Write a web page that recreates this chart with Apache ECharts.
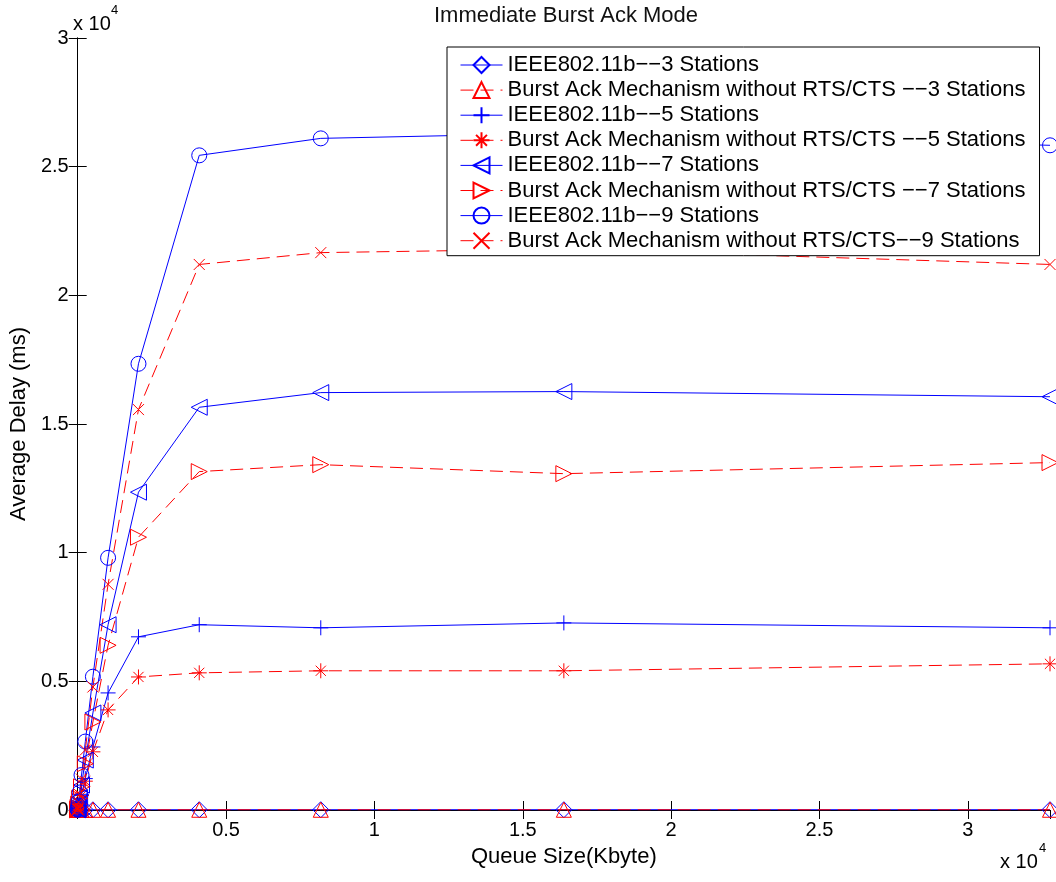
<!DOCTYPE html>
<html>
<head>
<meta charset="utf-8">
<script src="https://cdn.jsdelivr.net/npm/echarts@6/dist/echarts.min.js"></script>
<style>
  html, body { margin: 0; padding: 0; background: #fff; }
  #chart { width: 1056px; height: 882px; }
</style>
</head>
<body>
<div id="chart"></div>
<script>
// Queue sizes (Kbyte) used for each run
const queueSizes = [1, 2, 4, 8, 16, 32, 64, 128, 256, 512, 1024, 2048, 4096, 8192, 16384, 32768];

// Average delay (ms) per configuration
const ieee3  = [2, 2, 3, 3, 4, 4, 5, 6, 7, 8, 9, 10, 11, 11, 11, 11];
const burst3 = [2, 2, 2, 3, 3, 4, 4, 5, 6, 7, 8, 8, 9, 9, 9, 9];
const ieee5  = [5, 10, 20, 40, 75, 150, 300, 610, 1220, 2450, 4550, 6730, 7200, 7080, 7270, 7080];
const burst5 = [4, 8, 17, 33, 68, 140, 280, 560, 1120, 2260, 3890, 5170, 5330, 5410, 5410, 5680];
const ieee7  = [8, 15, 30, 60, 120, 240, 485, 970, 1940, 3770, 7200, 12350, 15650, 16220, 16260, 16060];
const burst7 = [7, 14, 28, 56, 112, 225, 450, 900, 1800, 3420, 6400, 10600, 13150, 13420, 13070, 13500];
const ieee9  = [11, 21, 42, 85, 170, 340, 680, 1360, 2660, 5180, 9800, 17340, 25440, 26100, 26300, 25830];
const burst9 = [9, 19, 37, 75, 150, 300, 600, 1200, 2330, 4780, 8770, 15560, 21200, 21660, 21800, 21200];

const seriesNames = [
  'IEEE802.11b\u2212\u22123 Stations',
  'Burst Ack Mechanism without RTS/CTS \u2212\u22123 Stations',
  'IEEE802.11b\u2212\u22125 Stations',
  'Burst Ack Mechanism without RTS/CTS \u2212\u22125 Stations',
  'IEEE802.11b\u2212\u22127 Stations',
  'Burst Ack Mechanism without RTS/CTS \u2212\u22127 Stations',
  'IEEE802.11b\u2212\u22129 Stations',
  'Burst Ack Mechanism without RTS/CTS\u2212\u22129 Stations'
];

const xTicks = [0, 5000, 10000, 15000, 20000, 25000, 30000];
const yTicks = [0, 5000, 10000, 15000, 20000, 25000, 30000];

const BLUE = '#0000ff';
const RED = '#ff0000';
const FONT = 'Liberation Sans, Arial, Helvetica, sans-serif';

// Outline-only marker shapes (stroked, never filled)
const MARK = {
  diamond: 'path://M5,0L10,5L5,10L0,5Z',
  triUp: 'path://M5,0L10,10L0,10Z',
  plus: 'path://M5,0L5,10M0,5L10,5',
  star: 'path://M5,0L5,10M0,5L10,5M1.6,1.6L8.4,8.4M8.4,1.6L1.6,8.4',
  triLeft: 'path://M0,5L10,0L10,10Z',
  triRight: 'path://M10,5L0,0L0,10Z',
  circle: 'path://M0,5A5,5 0 1,1 10,5A5,5 0 1,1 0,5Z',
  cross: 'path://M0,0L10,10M10,0L0,10'
};

function makeSeries(name, values, color, dashed, symbol, size) {
  return {
    name: name,
    type: 'line',
    data: queueSizes.map((q, i) => [q, values[i]]),
    symbol: symbol,
    symbolSize: size,
    showAllSymbol: true,
    symbolKeepAspect: true,
    animation: false,
    lineStyle: { color: color, width: 1, type: dashed ? [13, 7] : 'solid' },
    itemStyle: { color: 'rgba(0,0,0,0)', borderColor: color, borderWidth: 1 },
    emphasis: { disabled: true }
  };
}

const series = [
  makeSeries(seriesNames[0], ieee3, BLUE, false, MARK.diamond, 16),
  makeSeries(seriesNames[1], burst3, RED, true, MARK.triUp, 15),
  makeSeries(seriesNames[2], ieee5, BLUE, false, MARK.plus, 15),
  makeSeries(seriesNames[3], burst5, RED, true, MARK.star, 15),
  makeSeries(seriesNames[4], ieee7, BLUE, false, MARK.triLeft, 16),
  makeSeries(seriesNames[5], burst7, RED, true, MARK.triRight, 16),
  makeSeries(seriesNames[6], ieee9, BLUE, false, MARK.circle, 15),
  makeSeries(seriesNames[7], burst9, RED, true, MARK.cross, 11)
];

const chart = echarts.init(document.getElementById('chart'), null, { renderer: 'canvas' });

const tickStyle = { color: '#000', fontFamily: FONT, fontSize: 20 };
const nameStyle = { color: '#000', fontFamily: FONT, fontSize: 22 };

chart.setOption({
  animation: false,
  backgroundColor: '#fff',
  title: {
    text: 'Immediate Burst Ack Mode',
    left: 561,
    top: 0,
    textAlign: 'center',
    textStyle: { fontFamily: FONT, fontSize: 22, fontWeight: 'normal', color: '#111' }
  },
  grid: { left: 73, right: 6, top: 38, bottom: 72, containLabel: false },
  legend: {
    orient: 'vertical',
    left: 447,
    top: 47,
    padding: [7, 14, 4, 13],
    itemGap: 3.1,
    itemWidth: 42,
    itemHeight: 20,
    backgroundColor: '#fff',
    borderColor: '#000',
    borderWidth: 1,
    borderRadius: 0,
    selectedMode: false,
    lineStyle: { width: 1 },
    textStyle: { fontFamily: FONT, fontSize: 22, color: '#000', lineHeight: 22 },
    data: seriesNames
  },
  xAxis: [
    {
      type: 'value',
      min: 0,
      max: 32768,
      interval: 5000,
      name: 'Queue Size(Kbyte)',
      nameLocation: 'middle',
      nameGap: 36,
      nameTextStyle: nameStyle,
      axisLine: { show: true, lineStyle: { color: '#000', width: 1 } },
      axisTick: { show: true, inside: true, length: 9, lineStyle: { color: '#000' } },
      axisLabel: {
        ...tickStyle,
        margin: 10,
        showMaxLabel: false,
        formatter: v => (xTicks.indexOf(v) > 0 ? String(v / 10000) : '')
      },
      splitLine: { show: false }
    },
    {
      type: 'value',
      position: 'top',
      min: 0,
      max: 32768,
      interval: 5000,
      axisLine: { show: true, lineStyle: { color: '#000', width: 1 } },
      axisTick: { show: true, inside: true, length: 9, lineStyle: { color: '#000' } },
      axisLabel: { show: false },
      splitLine: { show: false }
    }
  ],
  yAxis: [
    {
      type: 'value',
      min: 0,
      max: 30000,
      interval: 5000,
      name: 'Average Delay (ms)',
      nameLocation: 'middle',
      nameGap: 44,
      nameTextStyle: nameStyle,
      axisLine: { show: true, lineStyle: { color: '#000', width: 1 } },
      axisTick: { show: true, inside: true, length: 9, lineStyle: { color: '#000' } },
      axisLabel: {
        ...tickStyle,
        margin: 9,
        formatter: v => (yTicks.indexOf(v) >= 0 ? String(v / 10000) : '')
      },
      splitLine: { show: false }
    },
    {
      type: 'value',
      position: 'right',
      min: 0,
      max: 30000,
      interval: 5000,
      axisLine: { show: true, lineStyle: { color: '#000', width: 1 } },
      axisTick: { show: true, inside: true, length: 9, lineStyle: { color: '#000' } },
      axisLabel: { show: false },
      splitLine: { show: false }
    }
  ],
  graphic: [
    // axis multipliers (x 10^4)
    { type: 'text', left: 73, top: 14, style: { text: 'x 10', fontFamily: FONT, fontSize: 20, fill: '#000' } },
    { type: 'text', left: 111, top: 4, style: { text: '4', fontFamily: FONT, fontSize: 13, fill: '#000' } },
    { type: 'text', left: 1000, top: 852, style: { text: 'x 10', fontFamily: FONT, fontSize: 20, fill: '#000' } },
    { type: 'text', left: 1039, top: 842, style: { text: '4', fontFamily: FONT, fontSize: 13, fill: '#000' } }
  ],
  series: series
});
</script>
</body>
</html>
